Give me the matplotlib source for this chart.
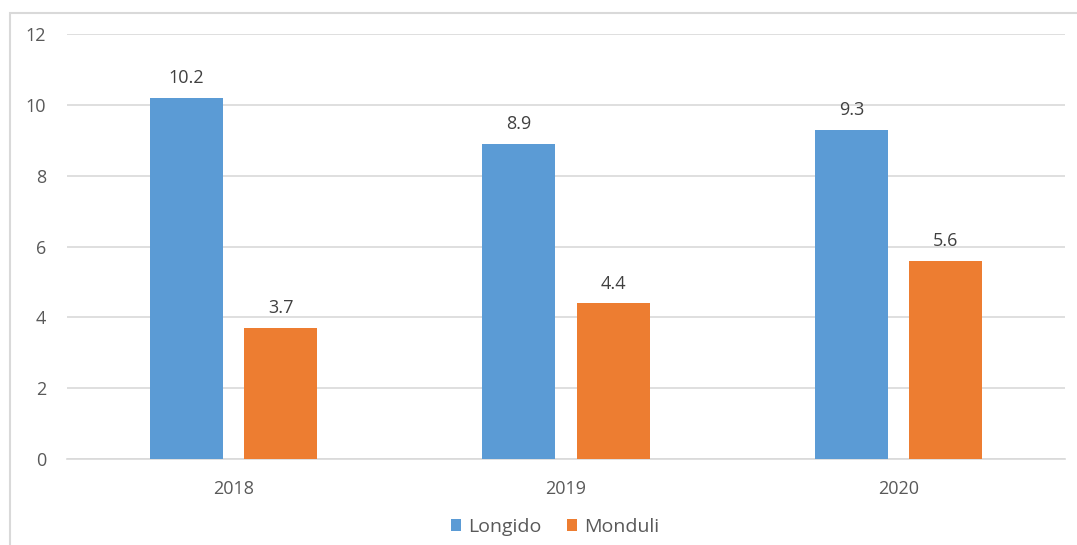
import numpy as np
import matplotlib.pyplot as plt
from matplotlib.patches import Rectangle

years = ["2018", "2019", "2020"]
longido = [10.2, 8.9, 9.3]
monduli = [3.7, 4.4, 5.6]

plt.rcParams["font.family"] = ["Open Sans", "DejaVu Sans"]

fig = plt.figure(figsize=(10.77, 5.45), dpi=100)
# chart frame
fig.patches.append(Rectangle((10 / 1077, -0.01), 1.0, 1 - 13 / 545 + 0.01,
                             transform=fig.transFigure, fill=False,
                             edgecolor="#d9d9d9", linewidth=1.5))

ax = fig.add_axes([67 / 1077, 1 - 459 / 545, 998 / 1077, 425 / 545])

x = np.arange(len(years))
w = 0.22
off = 0.142
b1 = ax.bar(x - off, longido, w, color="#5B9BD5", label="Longido", zorder=3)
b2 = ax.bar(x + off, monduli, w, color="#ED7D31", label="Monduli", zorder=3)

for bars, vals in ((b1, longido), (b2, monduli)):
    for r, v in zip(bars, vals):
        ax.text(r.get_x() + r.get_width() / 2, v + 0.3, f"{v}",
                ha="center", va="bottom", fontsize=13, color="#404040")

ax.set_xlim(-0.5, 2.5)
ax.set_ylim(0, 12)
ax.set_yticks(range(0, 13, 2))
ax.set_xticks(x)
ax.set_xticklabels(years)
ax.grid(axis="y", color="#d9d9d9", linewidth=1.2, zorder=0)
for s in ["top", "right", "left"]:
    ax.spines[s].set_visible(False)
ax.spines["bottom"].set_color("#d9d9d9")
ax.spines["bottom"].set_linewidth(1.2)
ax.tick_params(axis="both", length=0, labelsize=13, labelcolor="#595959")
ax.tick_params(axis="y", pad=15)
ax.tick_params(axis="x", pad=15)

fig.legend(loc="center", bbox_to_anchor=(555 / 1077, 1 - 527 / 545), ncol=2,
           frameon=False, fontsize=14, handlelength=0.55, handleheight=0.55,
           columnspacing=1.3, handletextpad=0.35, labelcolor="#595959")

fig.savefig("out.png", dpi=100)
